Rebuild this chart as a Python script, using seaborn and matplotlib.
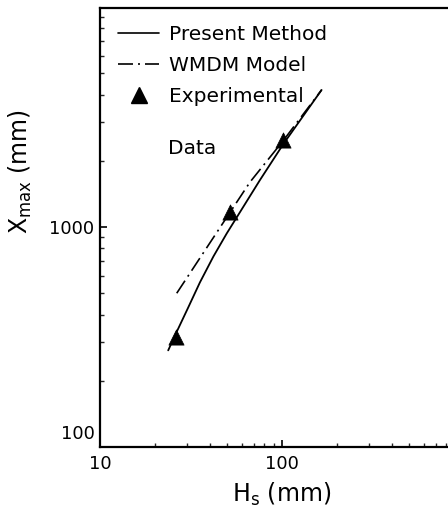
import numpy as np
import pandas as pd
import matplotlib
matplotlib.use("Agg")
import matplotlib.pyplot as plt
import matplotlib.transforms as mtransforms
from matplotlib.lines import Line2D
import seaborn as sns

# Datos
hs_present = [23.7, 26.4, 30.5, 35.4, 42.0, 49.7, 75.7, 101.6, 165]
x_present = [275, 334, 430, 560, 735, 935, 1636, 2380, 4198]

hs_wmdm = [26.4, 48.6, 66.7, 101.6, 165]
x_wmdm = [500, 1076, 1600, 2470, 4198]

hs_exp = [26.2, 51.7, 101.6]
x_exp = [316, 1175, 2483]

sns.set_style("ticks")
plt.rcParams['font.family'] = ['DejaVu Sans']
plt.rcParams['text.color'] = 'black'
plt.rcParams['axes.labelcolor'] = 'black'

fig = plt.figure(figsize=(4.48, 5.14), dpi=100)
ax = fig.add_axes([100 / 448, 1 - 447 / 514, 348 / 448, 439 / 514])

dashdot = (0, (9, 3, 1.2, 3))
sns.lineplot(x=hs_present, y=x_present, color='black', lw=1.3, ax=ax, sort=False)
sns.lineplot(x=hs_wmdm, y=x_wmdm, color='black', lw=1.2, ax=ax, sort=False,
             linestyle=dashdot)
sns.scatterplot(x=hs_exp, y=x_exp, marker='^', color='black', s=120,
                edgecolor='black', linewidth=0.5, ax=ax, zorder=5)

ax.set_xscale('log')
ax.set_yscale('log')
ax.set_xlim(10, 817)
ax.set_ylim(100, 9900)

ax.set_xticks([10, 100])
ax.set_xticklabels(['10', '100'])
ax.set_yticks([100, 1000])
ax.set_yticklabels(['100', '1000'])
ax.tick_params(axis='both', which='major', direction='in', length=5, width=1.2,
               labelsize=13, colors='black', pad=4)
ax.tick_params(axis='both', which='minor', direction='in', length=3, width=1.0)
ax.tick_params(axis='x', which='major', pad=6)

# "100" del eje y desplazado hacia arriba
lab = ax.get_yticklabels()[0]
lab.set_transform(lab.get_transform() +
                  mtransforms.ScaledTranslation(0, 15 / 100, fig.dpi_scale_trans))

for side in ['left', 'bottom', 'top']:
    ax.spines[side].set_linewidth(1.6)
    ax.spines[side].set_color('black')
ax.spines['right'].set_visible(False)

ax.set_xlabel(r'H$_{\rm s}$ (mm)', fontsize=17)
ax.set_ylabel(r'X$_{\rm max}$ (mm)', fontsize=17)
ax.xaxis.set_label_coords(0.523, -0.078)
ax.yaxis.set_label_coords(-0.19, 0.627)

handles = [
    Line2D([], [], color='black', lw=1.2),
    Line2D([], [], color='black', lw=1.2, linestyle=dashdot),
    Line2D([], [], color='black', marker='^', linestyle='none', markersize=11),
]
labels = ['Present Method', 'WMDM Model', 'Experimental']
leg = ax.legend(handles, labels, loc='upper left', frameon=False, fontsize=14.5,
                handlelength=2.0, handletextpad=0.5, labelspacing=0.6,
                borderaxespad=0.0, bbox_to_anchor=(0.03, 0.98))
ax.text(0.195, 0.681, 'Data', transform=ax.transAxes, fontsize=14.5,
        color='black', ha='left', va='center')

fig.savefig('out.png', dpi=100)
